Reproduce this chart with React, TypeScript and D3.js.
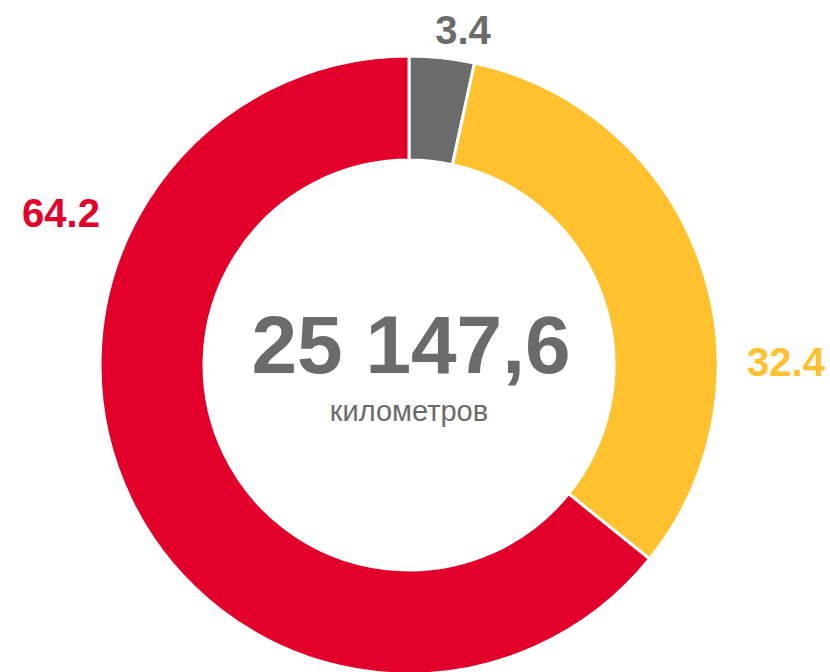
import React from "react";
import * as d3 from "d3";

const categories = ["A", "B", "C"];
const values = [3.4, 32.4, 64.2];
const labels = ["3.4", "32.4", "64.2"];
const colors = ["#6B6B6B", "#FFC22E", "#E2002A"];
const totalText = "25 147,6";
const unitText = "километров";

// label layout (x, y baseline, anchor)
const labelLayout: [number, number, string][] = [
  [463, 44, "middle"],
  [786, 376, "middle"],
  [61, 227, "middle"],
];

export default function App() {
  const W = 830, H = 672;
  const cx = 409, cy = 365, R = 309, r = 205;
  const pie = d3.pie<number>().sort(null).value((d) => d);
  const arcs = pie(values);
  const arc = d3.arc<d3.PieArcDatum<number>>().innerRadius(r).outerRadius(R);
  const font = "Arial, 'Liberation Sans', Helvetica, sans-serif";
  return (
    <svg width={W} height={H} style={{ position: "absolute", left: 0, top: 0 }}>
      <g transform={`translate(${cx},${cy})`}>
        {arcs.map((a, i) => (
          <path key={categories[i]} d={arc(a) || ""} fill={colors[i]} stroke="#fff" strokeWidth={3} strokeLinejoin="miter" />
        ))}
      </g>
      {labels.map((t, i) => (
        <text key={t} x={labelLayout[i][0]} y={labelLayout[i][1]} textAnchor={labelLayout[i][2] as any}
          fontFamily={font} fontWeight="bold" fontSize={40} fill={colors[i]}>{t}</text>
      ))}
      <text x={411} y={373} textAnchor="middle" fontFamily={font} fontWeight="bold" fontSize={82} fill="#6B6B6B">{totalText}</text>
      <text x={409} y={421} textAnchor="middle" fontFamily={font} fontSize={29} fill="#6B6B6B">{unitText}</text>
    </svg>
  );
}
